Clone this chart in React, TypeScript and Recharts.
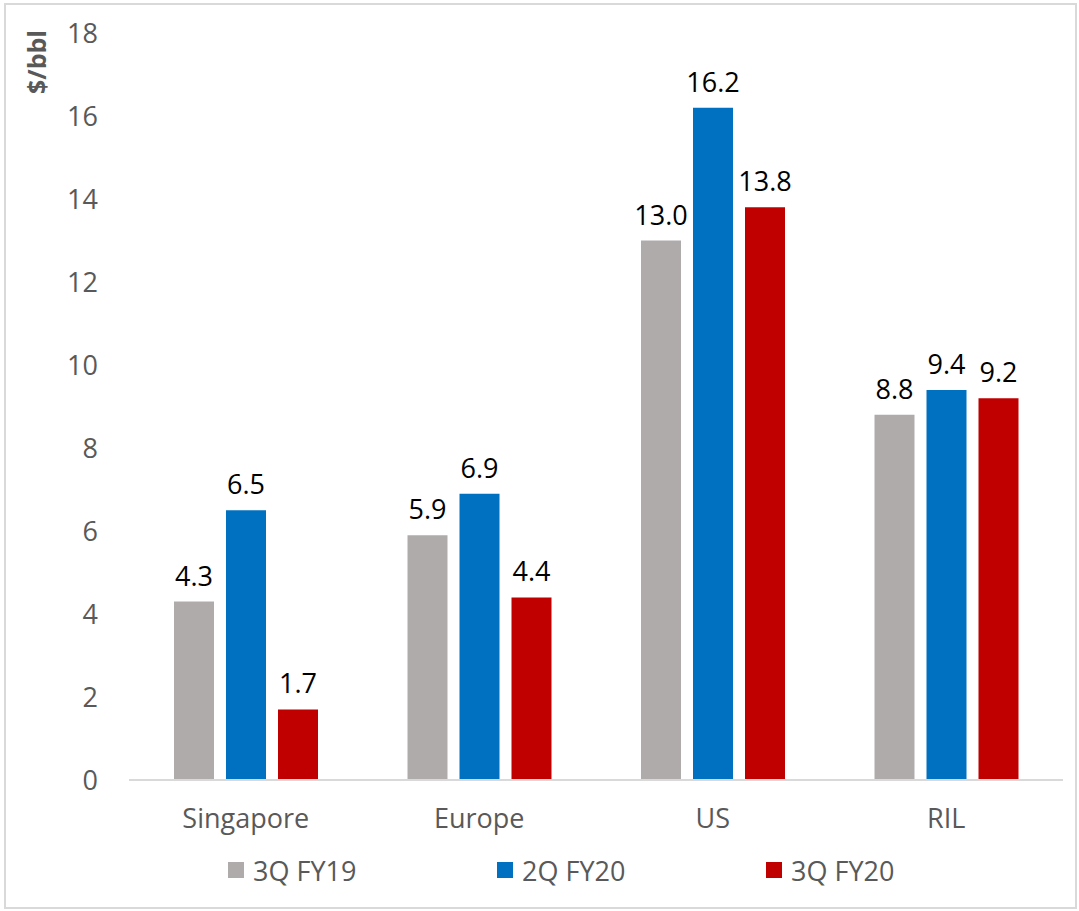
import { BarChart, Bar, XAxis, YAxis, Legend, LabelList } from "recharts";

const regions = ["Singapore", "Europe", "US", "RIL"];
const q3fy19 = [4.3, 5.9, 13.0, 8.8];
const q2fy20 = [6.5, 6.9, 16.2, 9.4];
const q3fy20 = [1.7, 4.4, 13.8, 9.2];
const yTicks = [0, 2, 4, 6, 8, 10, 12, 14, 16, 18];

const series = [
    { key: "q3fy19", name: "3Q FY19", color: "#AFABAB" },
    { key: "q2fy20", name: "2Q FY20", color: "#0070C0" },
    { key: "q3fy20", name: "3Q FY20", color: "#C00000" },
];

const data = regions.map((region, i) => ({
    region,
    q3fy19: q3fy19[i],
    q2fy20: q2fy20[i],
    q3fy20: q3fy20[i],
}));

const FONT = "'Open Sans', 'Noto Sans', sans-serif";
const GREY_TEXT = "#595959";

function LegendContent() {
    return (
        <div style={{ display: "flex", paddingLeft: 228, height: 40, alignItems: "center", fontFamily: FONT }}>
            {series.map((s) => (
                <div key={s.key} style={{ display: "flex", alignItems: "center", width: 269 }}>
                    <span style={{ width: 16, height: 16, background: s.color, marginRight: 9 }} />
                    <span style={{ fontSize: 27, color: GREY_TEXT }}>{s.name}</span>
                </div>
            ))}
        </div>
    );
}

export default function App() {
    return (
        <div style={{ position: "absolute", left: 0, top: 0, width: 1079, height: 911, background: "#fff" }}>
            <div
                style={{
                    position: "absolute",
                    left: 4,
                    top: 3,
                    width: 1069,
                    height: 902,
                    border: "2px solid #D9D9D9",
                }}
            />
            <BarChart
                width={1079}
                height={911}
                data={data}
                margin={{ top: 33, right: 16, left: 0, bottom: 21 }}
                barSize={40}
                barGap={12}
                style={{ fontFamily: FONT }}
            >
                <XAxis
                    dataKey="region"
                    height={70}
                    tickLine={false}
                    tickSize={0}
                    tickMargin={29}
                    axisLine={{ stroke: "#D9D9D9", strokeWidth: 2 }}
                    tick={{ fill: GREY_TEXT, fontSize: 27 }}
                />
                <YAxis
                    width={129}
                    domain={[0, 18]}
                    ticks={yTicks}
                    axisLine={false}
                    tickLine={false}
                    tickSize={0}
                    tickMargin={31}
                    tick={{ fill: GREY_TEXT, fontSize: 27 }}
                    label={{
                        content: () => (
                            <text
                                x={46}
                                y={62}
                                transform="rotate(-90 46 62)"
                                textAnchor="middle"
                                fill={GREY_TEXT}
                                fontSize={25}
                                fontWeight="bold"
                            >
                                $/bbl
                            </text>
                        ),
                    }}
                />
                <Legend
                    verticalAlign="bottom"
                    content={() => <LegendContent />}
                    wrapperStyle={{ left: 0, width: 1079 }}
                />
                {series.map((s) => (
                    <Bar key={s.key} dataKey={s.key} name={s.name} fill={s.color} isAnimationActive={false}>
                        <LabelList
                            dataKey={s.key}
                            position="top"
                            offset={16}
                            fill="#000"
                            fontSize={27}
                            formatter={(v: number) => v.toFixed(1)}
                        />
                    </Bar>
                ))}
            </BarChart>
        </div>
    );
}
